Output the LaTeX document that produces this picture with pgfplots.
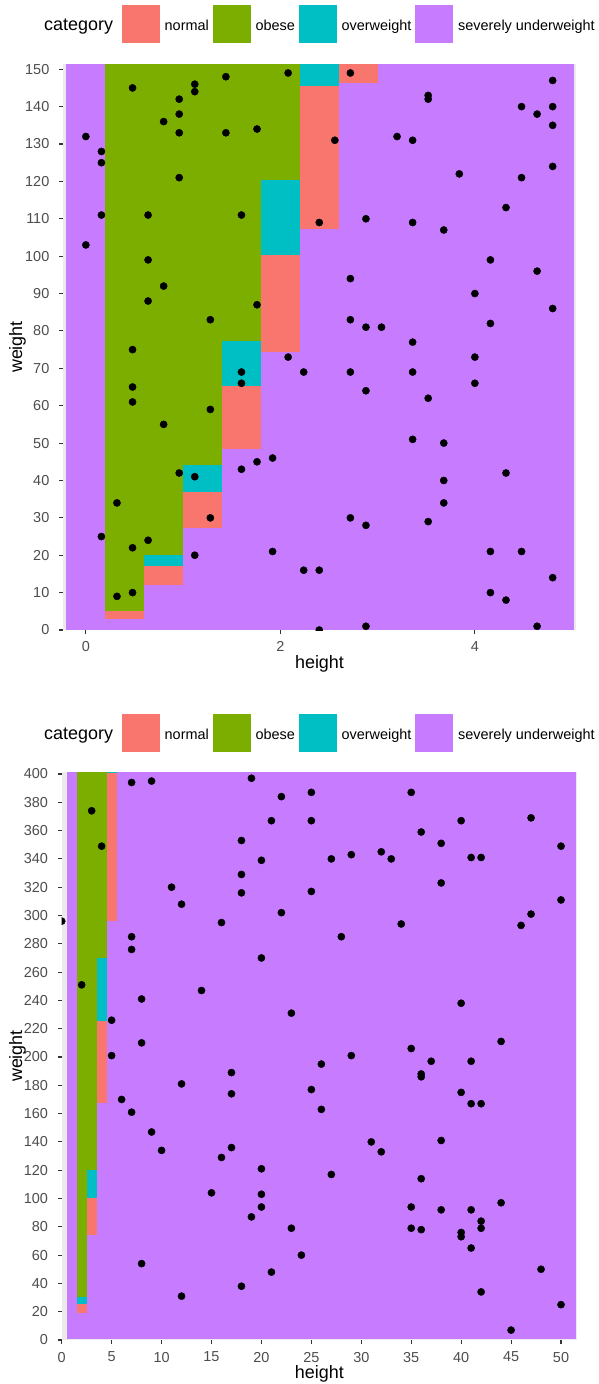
\documentclass[border=0pt]{standalone}
\usepackage{pgfplots}
\pgfplotsset{compat=1.18}
\usepackage{fontspec}
\setmainfont{Liberation Sans}
\definecolor{cnormal}{HTML}{F8766D}
\definecolor{cobese}{HTML}{7CAE00}
\definecolor{cover}{HTML}{00BFC4}
\definecolor{csev}{HTML}{C77CFF}
\definecolor{panelbg}{HTML}{EBEBEB}
\definecolor{ticklab}{HTML}{4D4D4D}
\definecolor{tickcol}{HTML}{333333}
\newcommand\smallf{\fontsize{14.5}{16}\selectfont}
\newcommand\titlef{\fontsize{18}{20}\selectfont}

\pgfplotstableread{
x y
0 132
0 103
0.16 128
0.16 125
0.16 111
0.16 25
0.32 34
0.32 9
0.48 145
0.48 75
0.48 65
0.48 61
0.48 22
0.48 10
0.64 111
0.64 99
0.64 88
0.64 24
0.8 136
0.8 92
0.8 55
0.96 142
0.96 138
0.96 133
0.96 121
0.96 42
1.12 146
1.12 144
1.12 41
1.12 20
1.28 83
1.28 59
1.28 30
1.44 148
1.44 133
1.6 111
1.6 69
1.6 66
1.6 43
1.76 134
1.76 87
1.76 45
1.92 46
1.92 21
2.08 149
2.08 73
2.24 69
2.24 16
2.4 109
2.4 16
2.4 0
2.56 131
2.72 149
2.72 94
2.72 83
2.72 69
2.72 30
2.88 110
2.88 81
2.88 64
2.88 28
2.88 1
3.04 81
3.2 132
3.36 131
3.36 109
3.36 77
3.36 69
3.36 51
3.52 143
3.52 142
3.52 62
3.52 29
3.68 107
3.68 50
3.68 40
3.68 34
3.84 122
4 90
4 73
4 66
4.16 99
4.16 82
4.16 21
4.16 10
4.32 113
4.32 42
4.32 8
4.48 140
4.48 121
4.48 21
4.64 138
4.64 96
4.64 1
4.8 147
4.8 140
4.8 135
4.8 124
4.8 86
4.8 14
}\toppoints

\pgfplotstableread{
x y
0 296
2 251
3 374
4 349
5 226
5 201
6 170
7 394
7 285
7 276
7 161
8 241
8 210
8 54
9 395
9 147
10 134
11 320
12 308
12 181
12 31
14 247
15 104
16 295
16 129
17 189
17 174
17 136
18 353
18 329
18 316
18 38
19 397
19 87
20 339
20 270
20 121
20 103
20 94
21 367
21 48
22 384
22 302
23 231
23 79
24 60
25 387
25 367
25 317
25 177
26 195
26 163
27 340
27 117
28 285
29 343
29 201
31 140
32 345
32 133
33 340
34 294
35 387
35 206
35 94
35 79
36 359
36 188
36 186
36 114
36 78
37 197
38 351
38 323
38 141
38 92
40 367
40 238
40 175
40 76
40 73
41 341
41 197
41 167
41 92
41 65
42 341
42 167
42 84
42 79
42 34
44 211
44 97
45 7
46 293
47 369
47 301
48 50
50 349
50 311
50 25
}\botpoints

\pgfplotsset{
  bmi/.style={
    scale only axis,
    clip marker paths=true,
    axis background/.style={fill=panelbg},
    axis line style={draw=none},
    tick align=outside,
    tick pos=left,
    major tick length=4bp,
    tick style={tickcol, line width=1.1bp},
    tick label style={font=\smallf, text=ticklab},
    /pgf/number format/assume math mode=true,
    xticklabel style={anchor=north, inner sep=0pt, yshift=-7.7bp},
    yticklabel style={anchor=east, inner sep=0pt, xshift=-9.5bp},
    label style={font=\titlef, text=black, inner sep=0pt},
    legend image code/.code={\fill[##1] (0bp,-17.9bp) rectangle (38bp,19.8bp);},
    legend columns=4,
    legend cell align=left,
    legend style={draw=none, fill=none, inner sep=0pt, outer sep=0pt,
      nodes={inner sep=0pt, text depth=0pt, font=\smallf, text=black},
      /tikz/every odd column/.append style={column sep=4.7bp},
      /tikz/every even column/.append style={column sep=4bp}},
    tile/.style={draw=none, forget plot},
    pts/.style={only marks, mark=*, mark size=3.6bp, black, forget plot},
  }
}

\begin{document}
\begin{tikzpicture}
\useasboundingbox (0,0) rectangle (599bp,-1384bp);

% ---------------- top panel ----------------
\begin{axis}[bmi, name=top,
  at={(63bp,-64bp)}, anchor=north west,
  width=513bp, height=566bp,
  xmin=-0.235, xmax=5.04, ymin=0, ymax=151.4,
  xtick={0,2,4}, ytick={0,10,...,150},
  xlabel={height}, ylabel={weight},
  xlabel style={at={(axis description cs:0.5,-0.068)}, anchor=base},
  ylabel style={at={(axis description cs:-0.0887,0.5)}, anchor=center},
  legend style={at={(axis description cs:0.1150,1.10424)}, anchor=north west},
]
\addlegendimage{fill=cnormal, draw=none}
\addlegendentry{normal}
\addlegendimage{fill=cobese, draw=none}
\addlegendentry{obese}
\addlegendimage{fill=cover, draw=none}
\addlegendentry{overweight}
\addlegendimage{fill=csev, draw=none}
\addlegendentry{severely underweight}

\addplot[tile, fill=csev] coordinates {(-0.2,0) (5.02,0) (5.02,151.4) (-0.2,151.4)};
% column 0.2-0.6
\addplot[tile, fill=cnormal] coordinates {(0.2,3) (0.6,3) (0.6,5) (0.2,5)};
\addplot[tile, fill=cobese] coordinates {(0.2,5) (0.6,5) (0.6,151.4) (0.2,151.4)};
% column 0.6-1.0
\addplot[tile, fill=cnormal] coordinates {(0.6,12) (1.0,12) (1.0,17) (0.6,17)};
\addplot[tile, fill=cover] coordinates {(0.6,17) (1.0,17) (1.0,20) (0.6,20)};
\addplot[tile, fill=cobese] coordinates {(0.6,20) (1.0,20) (1.0,151.4) (0.6,151.4)};
% column 1.0-1.4
\addplot[tile, fill=cnormal] coordinates {(1.0,27.2) (1.4,27.2) (1.4,37) (1.0,37)};
\addplot[tile, fill=cover] coordinates {(1.0,37) (1.4,37) (1.4,44.1) (1.0,44.1)};
\addplot[tile, fill=cobese] coordinates {(1.0,44.1) (1.4,44.1) (1.4,151.4) (1.0,151.4)};
% column 1.4-1.8
\addplot[tile, fill=cnormal] coordinates {(1.4,48.3) (1.8,48.3) (1.8,65.3) (1.4,65.3)};
\addplot[tile, fill=cover] coordinates {(1.4,65.3) (1.8,65.3) (1.8,77.2) (1.4,77.2)};
\addplot[tile, fill=cobese] coordinates {(1.4,77.2) (1.8,77.2) (1.8,151.4) (1.4,151.4)};
% column 1.8-2.2
\addplot[tile, fill=cnormal] coordinates {(1.8,74.3) (2.2,74.3) (2.2,100.3) (1.8,100.3)};
\addplot[tile, fill=cover] coordinates {(1.8,100.3) (2.2,100.3) (2.2,120.3) (1.8,120.3)};
\addplot[tile, fill=cobese] coordinates {(1.8,120.3) (2.2,120.3) (2.2,151.4) (1.8,151.4)};
% column 2.2-2.6
\addplot[tile, fill=cnormal] coordinates {(2.2,107.3) (2.6,107.3) (2.6,145.5) (2.2,145.5)};
\addplot[tile, fill=cover] coordinates {(2.2,145.5) (2.6,145.5) (2.6,151.4) (2.2,151.4)};
% column 2.6-3.0
\addplot[tile, fill=cnormal] coordinates {(2.6,146.4) (3.0,146.4) (3.0,151.4) (2.6,151.4)};

\addplot[pts] table[x=x, y=y] {\toppoints};
\end{axis}
\node[anchor=base west, font=\titlef, inner sep=0pt] at ([xshift=-19bp,yshift=34bp]top.north west) {category};

% ---------------- bottom panel ----------------
\begin{axis}[bmi, name=bot,
  at={(61.7bp,-772bp)}, anchor=north west,
  width=515.3bp, height=568bp,
  xmin=0, xmax=51.6, ymin=0, ymax=401.4,
  xtick={0,5,...,50}, ytick={0,20,...,400},
  xlabel={height}, ylabel={weight},
  xlabel style={at={(axis description cs:0.5,-0.0669)}, anchor=base},
  ylabel style={at={(axis description cs:-0.0858,0.5)}, anchor=center},
  legend style={at={(axis description cs:0.1170,1.10211)}, anchor=north west},
]
\addlegendimage{fill=cnormal, draw=none}
\addlegendentry{normal}
\addlegendimage{fill=cobese, draw=none}
\addlegendentry{obese}
\addlegendimage{fill=cover, draw=none}
\addlegendentry{overweight}
\addlegendimage{fill=csev, draw=none}
\addlegendentry{severely underweight}

\addplot[tile, fill=csev] coordinates {(0.5,1) (51.5,1) (51.5,401.4) (0.5,401.4)};
% column 1.5-2.5
\addplot[tile, fill=cnormal] coordinates {(1.5,19) (2.5,19) (2.5,25.4) (1.5,25.4)};
\addplot[tile, fill=cover] coordinates {(1.5,25.4) (2.5,25.4) (2.5,30.2) (1.5,30.2)};
\addplot[tile, fill=cobese] coordinates {(1.5,30.2) (2.5,30.2) (2.5,401.4) (1.5,401.4)};
% column 2.5-3.5
\addplot[tile, fill=cnormal] coordinates {(2.5,74.2) (3.5,74.2) (3.5,100.3) (2.5,100.3)};
\addplot[tile, fill=cover] coordinates {(2.5,100.3) (3.5,100.3) (3.5,120.4) (2.5,120.4)};
\addplot[tile, fill=cobese] coordinates {(2.5,120.4) (3.5,120.4) (3.5,401.4) (2.5,401.4)};
% column 3.5-4.5
\addplot[tile, fill=cnormal] coordinates {(3.5,167.7) (4.5,167.7) (4.5,225.4) (3.5,225.4)};
\addplot[tile, fill=cover] coordinates {(3.5,225.4) (4.5,225.4) (4.5,270.1) (3.5,270.1)};
\addplot[tile, fill=cobese] coordinates {(3.5,270.1) (4.5,270.1) (4.5,401.4) (3.5,401.4)};
% column 4.5-5.5
\addplot[tile, fill=cnormal] coordinates {(4.5,296.3) (5.5,296.3) (5.5,400.5) (4.5,400.5)};
\addplot[tile, fill=cover] coordinates {(4.5,400.5) (5.5,400.5) (5.5,401.4) (4.5,401.4)};

\addplot[pts] table[x=x, y=y] {\botpoints};
\end{axis}
\node[anchor=base west, font=\titlef, inner sep=0pt] at ([xshift=-17.7bp,yshift=33bp]bot.north west) {category};
\end{tikzpicture}
\end{document}
